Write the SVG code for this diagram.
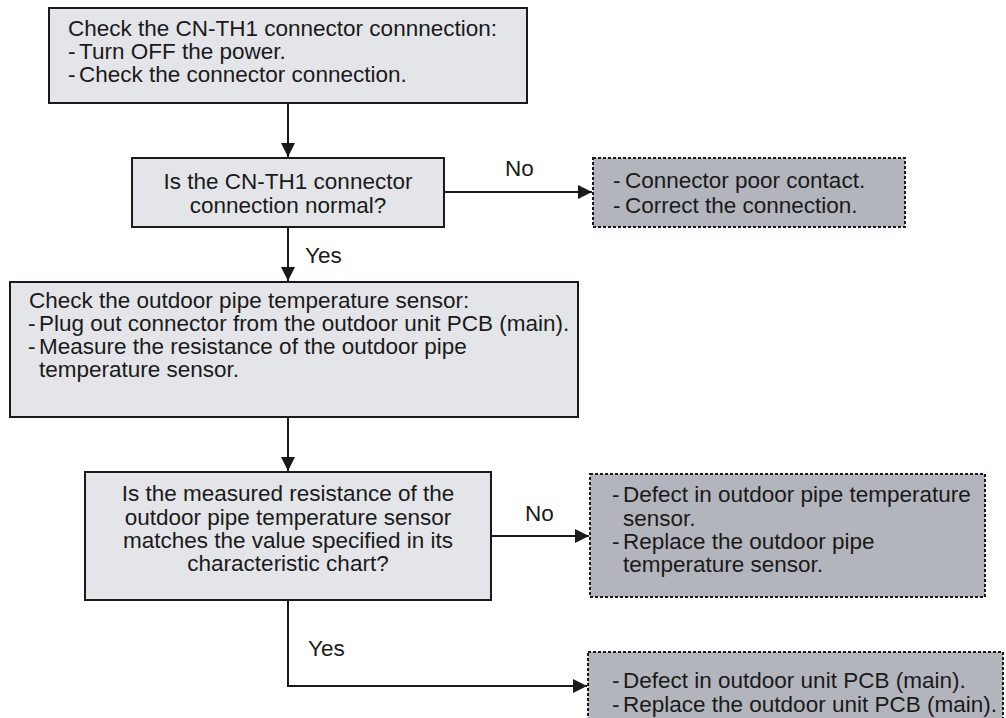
<svg xmlns="http://www.w3.org/2000/svg" width="1006" height="718" viewBox="0 0 1006 718">
<style>
text{font-family:"Liberation Sans",Arial,sans-serif;font-size:22.5px;fill:#1a1a1a}
.c{text-anchor:middle}
.proc{fill:#e4e5e8;stroke:#1a1a1a;stroke-width:2}
.res{fill:#b2b5bb;stroke:#1a1a1a;stroke-width:2;stroke-dasharray:3 2}
.ln{fill:none;stroke:#1a1a1a;stroke-width:2}
</style>
<defs>
<marker id="ah" markerWidth="14" markerHeight="14" refX="14" refY="7" orient="auto" markerUnits="userSpaceOnUse">
<path d="M0,0 L14,7 L0,14 Z" fill="#1a1a1a"/>
</marker>
</defs>
<g id="connectors">
<path class="ln" d="M288,103 V157" marker-end="url(#ah)"/>
<path class="ln" d="M444,192 H592" marker-end="url(#ah)"/>
<path class="ln" d="M288,228 V281" marker-end="url(#ah)"/>
<path class="ln" d="M288,417 V471" marker-end="url(#ah)"/>
<path class="ln" d="M491,536 H589" marker-end="url(#ah)"/>
<path class="ln" d="M288,600 V686 H587" marker-end="url(#ah)"/>
<text x="505" y="176">No</text>
<text x="305" y="263">Yes</text>
<text x="525" y="521">No</text>
<text x="308" y="656">Yes</text>
</g>
<g id="n1">
<rect class="proc" x="49" y="8" width="478" height="95"/>
<text x="68" y="36">Check the CN-TH1 connector connnection:</text>
<text x="68" y="59">-</text><text x="79" y="59">Turn OFF the power.</text>
<text x="68" y="82">-</text><text x="79" y="82">Check the connector connection.</text>
</g>
<g id="n2">
<rect class="proc" x="132" y="158" width="312" height="69"/>
<text class="c" x="288" y="189">Is the CN-TH1 connector</text>
<text class="c" x="288" y="213">connection normal?</text>
</g>
<g id="n3">
<rect class="res" x="593" y="158" width="312" height="69"/>
<text x="613" y="188">-</text><text x="625" y="188">Connector poor contact.</text>
<text x="613" y="213">-</text><text x="625" y="213">Correct the connection.</text>
</g>
<g id="n4">
<rect class="proc" x="10" y="282" width="568" height="135"/>
<text x="29" y="308">Check the outdoor pipe temperature sensor:</text>
<text x="28" y="331">-</text><text x="39" y="331">Plug out connector from the outdoor unit PCB (main).</text>
<text x="28" y="354">-</text><text x="39" y="354">Measure the resistance of the outdoor pipe</text>
<text x="39" y="377">temperature sensor.</text>
</g>
<g id="n5">
<rect class="proc" x="85" y="472" width="406" height="128"/>
<text class="c" x="288" y="501">Is the measured resistance of the</text>
<text class="c" x="288" y="525">outdoor pipe temperature sensor</text>
<text class="c" x="288" y="548">matches the value specified in its</text>
<text class="c" x="288" y="571">characteristic chart?</text>
</g>
<g id="n6">
<rect class="res" x="590" y="474" width="395" height="123"/>
<text x="612" y="502">-</text><text x="623" y="502">Defect in outdoor pipe temperature</text>
<text x="623" y="526">sensor.</text>
<text x="612" y="549">-</text><text x="623" y="549">Replace the outdoor pipe</text>
<text x="623" y="572">temperature sensor.</text>
</g>
<g id="n7">
<rect class="res" x="588" y="652" width="415" height="72"/>
<text x="612" y="688">-</text><text x="623" y="688">Defect in outdoor unit PCB (main).</text>
<text x="612" y="712">-</text><text x="623" y="712">Replace the outdoor unit PCB (main).</text>
</g>
</svg>
